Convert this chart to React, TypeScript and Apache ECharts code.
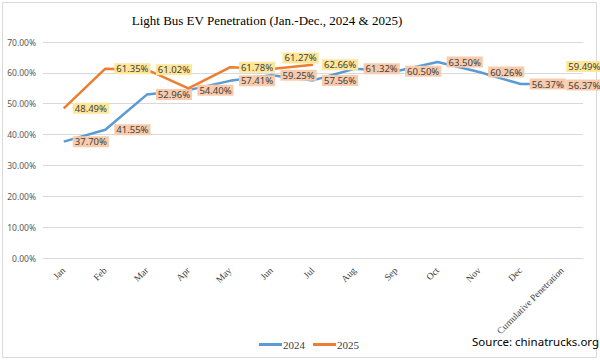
import React, { useEffect, useRef } from "react";
import * as echarts from "echarts";

const categories = ["Jan", "Feb", "Mar", "Apr", "May", "Jun", "Jul", "Aug", "Sep", "Oct", "Nov", "Dec", "Cumulative Penetration"];
const values2024: (number | null)[] = [37.70, 41.55, 52.96, 54.40, 57.41, 59.25, 57.56, 61.32, 60.50, 63.50, 60.26, 56.37, 56.37];
const values2025: (number | null)[] = [48.49, 61.35, 61.02, 55.0, 61.78, 61.27, 62.66, null, null, null, null, null, 59.49];
const hidden2025Labels = [3];
const yTicks = [0, 10, 20, 30, 40, 50, 60, 70];

export default function App() {
  const ref = useRef<HTMLDivElement>(null);
  useEffect(() => {
    if (!ref.current) return;
    const chart = echarts.init(ref.current, null, { renderer: "svg" });
    const last = categories.length - 1;
    const labelBase = {
      show: true,
      position: "right" as const,
      distance: 9,
      formatter: (p: any) => Number(p.value).toFixed(2) + "%",
      fontFamily: "Noto Sans",
      fontSize: 9.5,
      color: "#404040",
      padding: [1, 2, 0, 2],
    };
    const d2025 = values2025.map((v, i) => {
      if (v === null) return null;
      if (hidden2025Labels.includes(i)) return { value: v, label: { show: false } };
      return v;
    });
    chart.setOption({
      animation: false,
      title: {
        text: "Light Bus EV Penetration (Jan.-Dec., 2024 & 2025)",
        left: 262,
        top: 9,
        textAlign: "center",
        textStyle: { fontFamily: "Liberation Serif", fontSize: 13, fontWeight: "normal", color: "#000" },
      },
      graphic: [
        { type: "rect", shape: { x: 2.5, y: 2.5, width: 594, height: 355 }, style: { fill: "none", stroke: "#D9D9D9", lineWidth: 1 }, silent: true },
        {
          type: "text",
          left: 472,
          top: 335,
          style: { text: "Source: chinatrucks.org", fontFamily: "Noto Sans", fontSize: 11.5, fill: "#000" },
        },
      ],
      legend: {
        left: 254,
        top: 334,
        itemWidth: 23,
        itemHeight: 3,
        itemGap: 8,
        icon: "rect",
        textStyle: { fontFamily: "Liberation Serif", fontSize: 11, color: "#404040", padding: [0, 0, 0, -4] },
        data: ["2024", "2025"],
      },
      grid: { left: 43, right: 17, top: 42, bottom: 103 },
      xAxis: {
        type: "category",
        data: categories,
        boundaryGap: true,
        axisLine: { lineStyle: { color: "#D9D9D9" } },
        axisTick: { show: false },
        axisLabel: {
          rotate: 45,
          interval: 0,
          margin: 11,
          fontFamily: "Liberation Serif",
          fontSize: 9.5,
          color: "#404040",
        },
      },
      yAxis: {
        type: "value",
        min: yTicks[0],
        max: yTicks[yTicks.length - 1],
        interval: 10,
        axisLine: { show: false },
        axisTick: { show: false },
        splitLine: { lineStyle: { color: "#D9D9D9" } },
        axisLabel: {
          formatter: (v: number) => v.toFixed(2) + "%",
          fontFamily: "Noto Sans",
          fontSize: 8.5,
          color: "#595959",
          margin: 7,
        },
      },
      series: [
        {
          name: "2024",
          type: "line",
          data: values2024,
          symbol: "circle",
          symbolSize: 0.01,
          showSymbol: true,
          lineStyle: { color: "#5B9BD5", width: 2.5 },
          itemStyle: { color: "#5B9BD5" },
          label: { ...labelBase, backgroundColor: "#F8CBAD" },
          labelLayout: (p: any) => (p.dataIndex === last ? { dx: -5, dy: 1 } : {}),
          z: 2,
        },
        {
          name: "2025",
          type: "line",
          data: d2025,
          connectNulls: false,
          symbol: "circle",
          symbolSize: 0.01,
          showSymbol: true,
          lineStyle: { color: "#ED7D31", width: 2.5 },
          itemStyle: { color: "#ED7D31" },
          label: { ...labelBase, backgroundColor: "#FFE699" },
          labelLayout: (p: any) =>
            p.dataIndex === 5 ? { dx: 2, dy: -11 } : p.dataIndex === last ? { dx: -5, dy: -8 } : {},
          z: 3,
        },
      ],
    });
    return () => chart.dispose();
  }, []);
  return <div ref={ref} style={{ width: 600, height: 361, position: "absolute", left: 0, top: 0, background: "#fff" }} />;
}
